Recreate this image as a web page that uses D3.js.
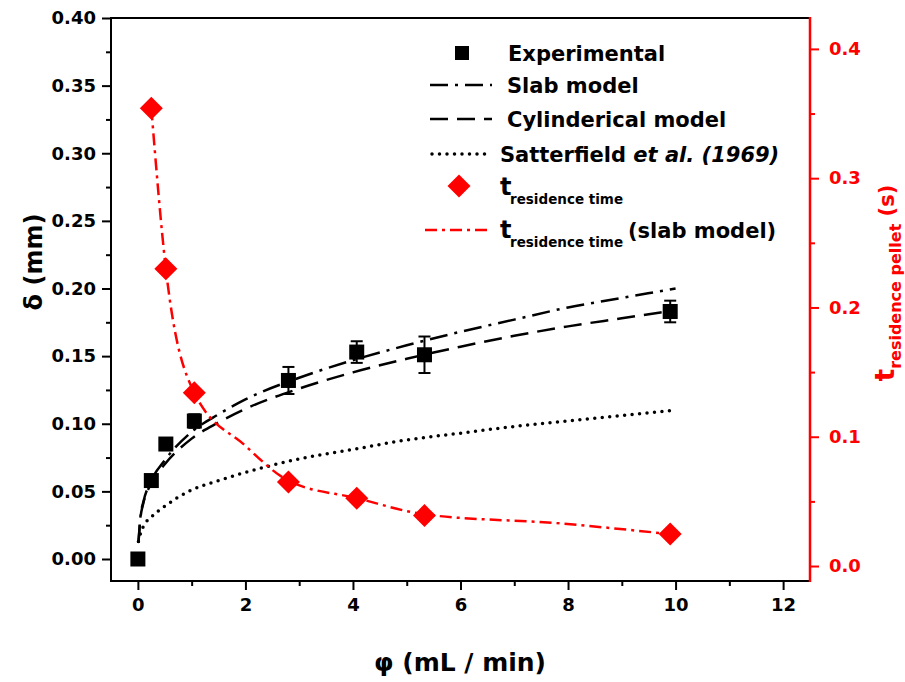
<!DOCTYPE html>
<html>
<head>
<meta charset="utf-8">
<script src="https://cdn.jsdelivr.net/npm/d3@7"></script>
<style>
  body { margin: 0; background: #fff; }
  text { font-family: "DejaVu Sans", sans-serif; font-weight: bold; }
</style>
</head>
<body>
<svg id="chart" width="905" height="682"></svg>
<script>
// experimental points (left axis)
var phi = [0, 0.25, 0.52, 1.05, 2.8, 4.07, 5.33, 9.9];
var delta = [0, 0.058, 0.085, 0.102, 0.132, 0.153, 0.151, 0.183];
var deltaErr = [0, 0.003, 0.004, 0.005, 0.010, 0.008, 0.0135, 0.008];

// model curves (left axis)
var modelPhi = [0.01, 0.05, 0.1, 0.25, 0.5, 1, 1.5, 2, 3, 4, 5, 6, 7, 8, 9, 10];
var slab = [0.012, 0.032, 0.042, 0.058, 0.073, 0.094, 0.107, 0.118, 0.134, 0.147, 0.158, 0.168, 0.177, 0.186, 0.193, 0.200];
var cyl = [0.012, 0.031, 0.041, 0.056, 0.070, 0.089, 0.101, 0.111, 0.126, 0.138, 0.148, 0.157, 0.165, 0.172, 0.178, 0.184];
var satt = [0.013, 0.019, 0.024, 0.031, 0.039, 0.051, 0.058, 0.064, 0.074, 0.081, 0.088, 0.093, 0.098, 0.102, 0.106, 0.110];

// residence time (right axis)
var tPhi = [0.25, 0.52, 1.05, 2.8, 4.07, 5.33, 9.9];
var tRes = [0.354, 0.230, 0.134, 0.065, 0.0525, 0.039, 0.0247];
var tModelPhi = [0.25, 0.52, 1.05, 2.0, 2.8, 4.07, 5.33, 7.84, 9.9];
var tModel = [0.354, 0.230, 0.134, 0.093, 0.066, 0.0525, 0.040, 0.033, 0.0247];

// ticks
var xMajor = [0, 2, 4, 6, 8, 10, 12];
var xMinor = [1, 3, 5, 7, 9, 11];
var yMajor = [0, 0.05, 0.10, 0.15, 0.20, 0.25, 0.30, 0.35, 0.40];
var yMinor = [0.025, 0.075, 0.125, 0.175, 0.225, 0.275, 0.325, 0.375];
var y2Major = [0, 0.1, 0.2, 0.3, 0.4];
var y2Minor = [0.05, 0.15, 0.25, 0.35];

var RED = '#ff0000';
var padL = 111, padR = 810, padT = 18, padB = 581;

var svg = d3.select('#chart');

var x = d3.scaleLinear().domain([-0.5, 12.5]).range([padL, padR]);
var y = d3.scaleLinear().domain([-0.01627, 0.40]).range([padB, padT]);
var y2 = d3.scaleLinear().domain([-0.01158, 0.4239]).range([padB, padT]);

// axes
function styleAxis(g, color, size) {
  g.select('.domain').remove();
  g.selectAll('line').attr('stroke', color).attr('stroke-width', 2);
  g.selectAll('text').attr('fill', color).style('font-size', size + 'px');
}

svg.append('g').attr('transform', 'translate(0,' + padB + ')')
  .call(d3.axisBottom(x).tickValues(xMajor).tickSize(9).tickPadding(8).tickFormat(d3.format('d')))
  .call(styleAxis, '#000', 18);
svg.append('g').attr('transform', 'translate(0,' + padB + ')')
  .call(d3.axisBottom(x).tickValues(xMinor).tickSize(5).tickFormat(''))
  .call(styleAxis, '#000', 18);

svg.append('g').attr('transform', 'translate(' + padL + ',0)')
  .call(d3.axisLeft(y).tickValues(yMajor).tickSize(9).tickPadding(6).tickFormat(d3.format('.2f')))
  .call(styleAxis, '#000', 18);
svg.append('g').attr('transform', 'translate(' + padL + ',0)')
  .call(d3.axisLeft(y).tickValues(yMinor).tickSize(5).tickFormat(''))
  .call(styleAxis, '#000', 18);

svg.append('g').attr('transform', 'translate(' + padR + ',0)')
  .call(d3.axisRight(y2).tickValues(y2Major).tickSize(9).tickPadding(10).tickFormat(d3.format('.1f')))
  .call(styleAxis, RED, 18);
svg.append('g').attr('transform', 'translate(' + padR + ',0)')
  .call(d3.axisRight(y2).tickValues(y2Minor).tickSize(5).tickFormat(''))
  .call(styleAxis, RED, 18);

// frame
svg.append('path')
  .attr('d', 'M' + padR + ',' + padT + 'H' + padL + 'V' + padB + 'H' + padR)
  .attr('fill', 'none').attr('stroke', '#000').attr('stroke-width', 2);
svg.append('line')
  .attr('x1', padR).attr('x2', padR).attr('y1', padT - 1).attr('y2', padB + 1)
  .attr('stroke', RED).attr('stroke-width', 2.5);

// axis titles
svg.append('text')
  .attr('transform', 'translate(42,262) rotate(-90)')
  .attr('text-anchor', 'middle').style('font-size', '24px')
  .text('δ (mm)');

svg.append('text')
  .attr('x', 460).attr('y', 671)
  .attr('text-anchor', 'middle').style('font-size', '25px')
  .text('φ (mL / min)');

var rt = svg.append('text')
  .attr('transform', 'translate(894,283) rotate(-90)')
  .attr('text-anchor', 'middle').attr('fill', RED);
rt.append('tspan').style('font-size', '26px').text('t');
rt.append('tspan').style('font-size', '16px').attr('dy', 7).text('residence pellet');
rt.append('tspan').style('font-size', '21px').attr('dy', -7).text(' (s)');

// curves
function curve(xs, ys, sc) {
  return d3.line()
    .x(function (d, i) { return x(xs[i]); })
    .y(function (d, i) { return sc(ys[i]); })
    .curve(d3.curveMonotoneX)(ys);
}

var slabDash = '18,7,3,7';
var cylDash = '18,9';
var redDash = '12,5,3,5';

svg.append('path').attr('d', curve(modelPhi, slab, y))
  .attr('fill', 'none').attr('stroke', '#000').attr('stroke-width', 2.5).attr('stroke-dasharray', slabDash);
svg.append('path').attr('d', curve(modelPhi, cyl, y))
  .attr('fill', 'none').attr('stroke', '#000').attr('stroke-width', 2.5).attr('stroke-dasharray', cylDash);
svg.append('path').attr('d', curve(modelPhi, satt, y))
  .attr('fill', 'none').attr('stroke', '#000').attr('stroke-width', 3.5)
  .attr('stroke-linecap', 'round').attr('stroke-dasharray', '0,7.5');
svg.append('path').attr('d', curve(tModelPhi, tModel, y2))
  .attr('fill', 'none').attr('stroke', RED).attr('stroke-width', 2.5).attr('stroke-dasharray', redDash);

// error bars
var eb = svg.append('g').attr('stroke', '#000').attr('stroke-width', 2);
phi.forEach(function (p, i) {
  if (!deltaErr[i]) return;
  var cx = x(p), y0 = y(delta[i] - deltaErr[i]), y1 = y(delta[i] + deltaErr[i]);
  eb.append('line').attr('x1', cx).attr('x2', cx).attr('y1', y0).attr('y2', y1);
  eb.append('line').attr('x1', cx - 6).attr('x2', cx + 6).attr('y1', y0).attr('y2', y0);
  eb.append('line').attr('x1', cx - 6).attr('x2', cx + 6).attr('y1', y1).attr('y2', y1);
});

// markers
var sq = 15;
svg.selectAll('rect.exp').data(phi).enter().append('rect')
  .attr('class', 'exp')
  .attr('x', function (d) { return x(d) - sq / 2; })
  .attr('y', function (d, i) { return y(delta[i]) - sq / 2; })
  .attr('width', sq).attr('height', sq).attr('fill', '#000');

function diamond(cx, cy, r) {
  return 'M' + cx + ',' + (cy - r) + 'L' + (cx + r) + ',' + cy + 'L' + cx + ',' + (cy + r) + 'L' + (cx - r) + ',' + cy + 'Z';
}
svg.selectAll('path.res').data(tPhi).enter().append('path')
  .attr('class', 'res')
  .attr('d', function (d, i) { return diamond(x(d), y2(tRes[i]), 11.5); })
  .attr('fill', RED);

// legend
var lg = svg.append('g');
lg.append('rect').attr('x', 455).attr('y', 46).attr('width', 14).attr('height', 14).attr('fill', '#000');
lg.append('text').attr('x', 508).attr('y', 61).style('font-size', '21px').text('Experimental');

lg.append('line').attr('x1', 430).attr('x2', 492).attr('y1', 85).attr('y2', 85)
  .attr('stroke', '#000').attr('stroke-width', 2.5).attr('stroke-dasharray', slabDash);
lg.append('text').attr('x', 507).attr('y', 93).style('font-size', '21px').text('Slab model');

lg.append('line').attr('x1', 430).attr('x2', 492).attr('y1', 119).attr('y2', 119)
  .attr('stroke', '#000').attr('stroke-width', 2.5).attr('stroke-dasharray', cylDash);
lg.append('text').attr('x', 507).attr('y', 127).style('font-size', '21px').text('Cylinderical model');

lg.append('line').attr('x1', 432).attr('x2', 492).attr('y1', 154).attr('y2', 154)
  .attr('stroke', '#000').attr('stroke-width', 3.5).attr('stroke-linecap', 'round').attr('stroke-dasharray', '0,7.5');
var st = lg.append('text').attr('x', 500).attr('y', 162).style('font-size', '21px');
st.append('tspan').text('Satterfield ');
st.append('tspan').style('font-style', 'italic').text('et al. (1969)');

lg.append('path').attr('d', diamond(459, 186, 11.5)).attr('fill', RED);
var t1 = lg.append('text').attr('x', 500).attr('y', 195);
t1.append('tspan').style('font-size', '24px').text('t');
t1.append('tspan').attr('x', 510).attr('dy', 9).style('font-size', '13.5px').text('residence time');

lg.append('line').attr('x1', 425).attr('x2', 492).attr('y1', 230).attr('y2', 230)
  .attr('stroke', RED).attr('stroke-width', 2.5).attr('stroke-dasharray', redDash);
var t2 = lg.append('text').attr('x', 500).attr('y', 238);
t2.append('tspan').style('font-size', '24px').text('t');
t2.append('tspan').attr('x', 510).attr('dy', 9).style('font-size', '13.5px').text('residence time');
t2.append('tspan').attr('x', 628).attr('dy', -9).style('font-size', '21px').text('(slab model)');
</script>
</body>
</html>
